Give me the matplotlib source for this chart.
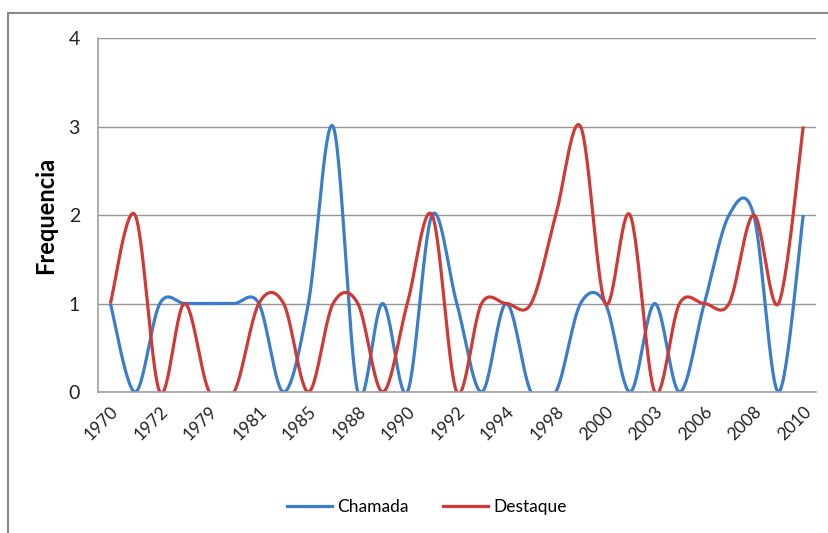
import matplotlib.pyplot as plt
import numpy as np
from matplotlib.lines import Line2D

# dados do grafico
anos = ["1970", "1971", "1972", "1978", "1979", "1980", "1981", "1984", "1985", "1986",
        "1988", "1989", "1990", "1991", "1992", "1993", "1994", "1997", "1998", "1999",
        "2000", "2002", "2003", "2005", "2006", "2007", "2008", "2009", "2010"]
chamada = [1, 0, 1, 1, 1, 1, 1, 0, 1, 3, 0, 1, 0, 2, 1, 0, 1, 0, 0, 1, 1, 0, 1, 0, 1, 2, 2, 0, 2]
destaque = [1, 2, 0, 1, 0, 0, 1, 1, 0, 1, 1, 0, 1, 2, 0, 1, 1, 1, 2, 3, 1, 2, 0, 1, 1, 1, 2, 1, 3]
rotulos = anos[::2]


# curva suavizada tipo excel (bezier com pontos de controle catmull-rom)
def suavizar(y, n=30):
    y = np.array(y, dtype=float)
    x = np.arange(len(y), dtype=float)
    xs, ys = [], []
    t = np.linspace(0, 1, n)
    for i in range(len(y) - 1):
        i0 = max(i - 1, 0)
        i3 = min(i + 2, len(y) - 1)
        p0 = np.array([x[i], y[i]])
        p3 = np.array([x[i + 1], y[i + 1]])
        p1 = p0 + (np.array([x[i + 1], y[i + 1]]) - np.array([x[i0], y[i0]])) / 6
        p2 = p3 - (np.array([x[i3], y[i3]]) - np.array([x[i], y[i]])) / 6
        b = (np.outer((1 - t) ** 3, p0) + np.outer(3 * (1 - t) ** 2 * t, p1)
             + np.outer(3 * (1 - t) * t ** 2, p2) + np.outer(t ** 3, p3))
        xs.extend(b[:, 0])
        ys.extend(b[:, 1])
    return np.array(xs), np.array(ys)


plt.rcParams['font.family'] = ['Lato', 'DejaVu Sans']
fig = plt.figure(figsize=(8.29, 5.33), dpi=100)
ax = fig.add_axes([0.1182, 0.2645, 0.8657, 0.6642])

azul = '#3A7DCB'
vermelho = '#CF3A36'
xc, yc = suavizar(chamada)
xd, yd = suavizar(destaque)
ax.plot(xc, yc, color=azul, linewidth=2.3, solid_capstyle='butt')
ax.plot(xd, yd, color=vermelho, linewidth=2.3, solid_capstyle='butt')

ax.set_xlim(-0.5, len(anos) - 0.5)
ax.set_ylim(0, 4)
ax.set_yticks([0, 1, 2, 3, 4])
ax.set_xticks(np.arange(0, len(anos), 2))
ax.set_xticklabels(rotulos, rotation=45, ha='right', va='top', rotation_mode='anchor')
ax.tick_params(axis='both', length=0, colors='#222222')
ax.tick_params(axis='x', pad=8, labelsize=12.5)
ax.tick_params(axis='y', pad=13, labelsize=14)
ax.grid(axis='y', color='#959595', linewidth=1)
ax.set_axisbelow(True)
for lado in ['top', 'right']:
    ax.spines[lado].set_visible(False)
for lado in ['left', 'bottom']:
    ax.spines[lado].set_color('#a0a0a0')
    ax.spines[lado].set_linewidth(1.2)
ax.set_ylabel('Frequencia', fontsize=17, fontweight='bold', labelpad=8)

# legenda
handles = [Line2D([], [], color=azul, linewidth=2.3), Line2D([], [], color=vermelho, linewidth=2.3)]
fig.legend(handles, ['Chamada', 'Destaque'], loc='center', bbox_to_anchor=(0.515, 0.048),
           ncol=2, frameon=False, fontsize=12.5, handlelength=2.6, handletextpad=0.3,
           columnspacing=2.0)

# borda externa
fig.add_artist(Line2D([8 / 829, 1], [1 - 13 / 533, 1 - 13 / 533], color='#8a8a8a', linewidth=1.5))
fig.add_artist(Line2D([8 / 829, 8 / 829], [0, 1 - 13 / 533], color='#8a8a8a', linewidth=1.5))

fig.savefig('out.png', dpi=100)
